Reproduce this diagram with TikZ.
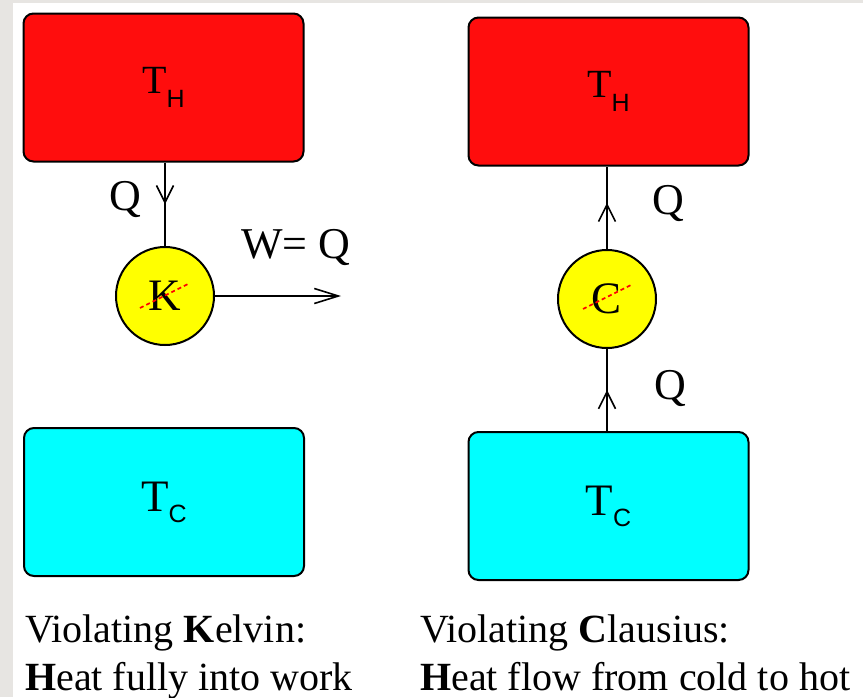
\documentclass[tikz,border=0pt]{standalone}
\usepackage{fontspec}
\setmainfont{Liberation Serif}
\setsansfont{Liberation Sans}
\usetikzlibrary{arrows.meta,positioning,decorations.markings}
\definecolor{HotRed}{HTML}{FF0D0D}
\definecolor{ColdCyan}{HTML}{00FFFF}
\definecolor{EngineYellow}{HTML}{FFFF00}
\definecolor{PageGrey}{HTML}{E7E5E2}
\newcommand{\lowsub}[2]{\raisebox{#1}{\sffamily\fontsize{25}{25}\selectfont #2}}

\begin{document}
\begin{tikzpicture}[x=1pt,y=-1pt]
    \tikzset{reservoir/.style={draw=black,line width=2pt,rounded corners=10pt,minimum width=280pt,
      minimum height=148pt,inner sep=0pt},
      engine/.style={circle,draw=black,line width=2pt,fill=EngineYellow,minimum size=98pt,
      inner sep=0pt,font=\fontsize{45}{45}\selectfont},
      flow/.style={line width=2pt},
      midarrow/.style={postaction={decorate},decoration={markings,
        mark=at position #1 with {\arrow{Straight Barb[length=17pt,width=17pt,line width=1.6pt]}}}},
      strike/.style={red,line width=1.6pt,dash pattern=on 4pt off 3pt},
      lbl/.style={inner sep=0pt,font=\fontsize{44}{44}\selectfont},
      caption/.style={anchor=base west,inner sep=0pt,font=\fontsize{40}{40}\selectfont}}
    % page
    \fill[white] (0,0) rectangle (863,697);
    \fill[PageGrey] (0,0) rectangle (13,697);
    \fill[PageGrey] (0,0) rectangle (863,3);
    \useasboundingbox (0,0) rectangle (863,697);
    % Kelvin side
    \node[reservoir,fill=HotRed,font=\fontsize{40}{40}\selectfont] (thL) at (163.5,87.5) {T\lowsub{-14pt}{H}};
    \node[reservoir,fill=ColdCyan,font=\fontsize{45}{45}\selectfont] (tcL) at (164,502) {T\lowsub{-11pt}{C}};
    \node[engine] (kel) at (165,296) {K};
    \draw[strike] (kel) ++(-25,12) -- ++(50,-25);
    \coordinate (wtip) at (341,296);
    \draw[flow,midarrow=0.5] (thL.south -| kel) -- (kel);
    \draw[flow,-{Straight Barb[length=24pt,width=15pt,line width=1.6pt]}] (kel) -- (wtip);
    \node[lbl] (qL) at (125,199) {Q};
    \node[lbl] (wq) at (296,247) {W= Q};
    % Clausius side
    \node[reservoir,fill=HotRed,font=\fontsize{40}{40}\selectfont] (thR) at (608.5,91.5) {T\lowsub{-14pt}{H}};
    \node[reservoir,fill=ColdCyan,font=\fontsize{45}{45}\selectfont] (tcR) at (608.5,506) {T\lowsub{-11pt}{C}};
    \node[engine] (cla) at (607,299) {C};
    \draw[strike] (cla) ++(-24,10) -- ++(50,-25);
    \draw[flow,midarrow=0.56] (cla) -- (thR.south -| cla);
    \draw[flow,midarrow=0.5] (tcR.north -| cla) -- (cla);
    \node[lbl] (qRa) at (668,203) {Q};
    \node[lbl] (qRb) at (670,388) {Q};
    % captions
    \node[caption] (kelA) at (25,642) {Violating \textbf{K}elvin:};
    \node[caption] (kelB) at (25,690) {\textbf{H}eat fully into work};
    \node[caption] (claA) at (420,642) {Violating \textbf{C}lausius:};
    \node[caption] (claB) at (420,690) {\textbf{H}eat flow from cold to hot};
  \end{tikzpicture}
\end{document}
